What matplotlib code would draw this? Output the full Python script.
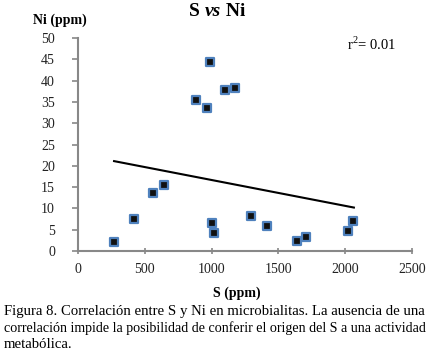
import matplotlib
matplotlib.use("Agg")
import matplotlib.pyplot as plt

s_ppm = [269, 419, 564, 646, 1005, 1020, 1292, 1412, 1639, 1707, 2018, 2061, 985, 881, 968, 1103, 1175]
ni_ppm = [2.0, 7.5, 13.5, 15.4, 6.6, 4.2, 8.2, 5.9, 2.3, 3.3, 4.7, 7.1, 44.4, 35.4, 33.6, 37.9, 38.3]
trend_x = [270, 2065]
trend_y = [21.1, 10.2]
x_ticks = [0, 500, 1000, 1500, 2000, 2500]
y_ticks = [0, 5, 10, 15, 20, 25, 30, 35, 40, 45, 50]

plt.rcParams['font.family'] = ['Liberation Serif', 'DejaVu Serif']
plt.rcParams['mathtext.fontset'] = 'custom'
plt.rcParams['mathtext.rm'] = 'Liberation Serif'

W, H = 431, 360
fig = plt.figure(figsize=(W/100, H/100), dpi=100)
ax = fig.add_axes([78/W, 1-251/H, (412-78)/W, (251-38)/H])

ax.plot(trend_x, trend_y, color='black', lw=1.5, zorder=2)
ax.scatter(s_ppm, ni_ppm, marker='s', s=26, facecolor='#111111',
           edgecolor='#4f81bd', linewidths=1.6, zorder=3)

ax.set_xlim(0, 2500)
ax.set_ylim(0, 50)
ax.set_xticks(x_ticks)
ax.set_yticks(y_ticks)
for sp in ['top', 'right']:
    ax.spines[sp].set_visible(False)
for sp in ['left', 'bottom']:
    ax.spines[sp].set_color('#888888')
    ax.spines[sp].set_linewidth(1.5)
ax.tick_params(axis='y', direction='out', length=4.5, width=1.2, color='#888888',
               labelsize=10, labelcolor='#222222', pad=12)
ax.tick_params(axis='x', direction='inout', length=5, width=1.2, color='#888888',
               labelsize=10, labelcolor='#222222', pad=6)

# title with italic "vs"
t1 = fig.text(0, 0, 'S ', fontsize=14, fontweight='bold')
t2 = fig.text(0, 0, 'vs', fontsize=14, fontweight='bold', fontstyle='italic')
t3 = fig.text(0, 0, ' Ni', fontsize=14, fontweight='bold')
fig.canvas.draw()
r = fig.canvas.get_renderer()
widths = [t.get_window_extent(r).width for t in (t1, t2, t3)]
x0 = 217 - sum(widths) / 2
for t, w in zip((t1, t2, t3), widths):
    t.set_position((x0 / W, 1 - 11 / H))
    t.set_va('center')
    x0 += w

fig.text(60/W, 1-20/H, 'Ni (ppm)', ha='center', va='center', fontsize=10, fontweight='bold')
fig.text(372/W, 1-44/H, 'r$^2$= 0.01', ha='center', va='center', fontsize=10.5)
fig.text(237/W, 1-293/H, 'S (ppm)', ha='center', va='center', fontsize=10, fontweight='bold')

caption = ["Figura 8. Correlación entre S y Ni en microbialitas. La ausencia de una",
           "correlación impide la posibilidad de conferir el origen del S a una actividad",
           "metabólica."]
target = 424
for i, line in enumerate(caption):
    t = fig.text(4/W, 1-(312+16*i)/H, line, ha='left', va='center', fontsize=10.6)
    if i < 2:
        w = t.get_window_extent(r).width
        if w > target:
            t.set_fontsize(10.6 * target / w)

fig.savefig('out.png', dpi=100)
